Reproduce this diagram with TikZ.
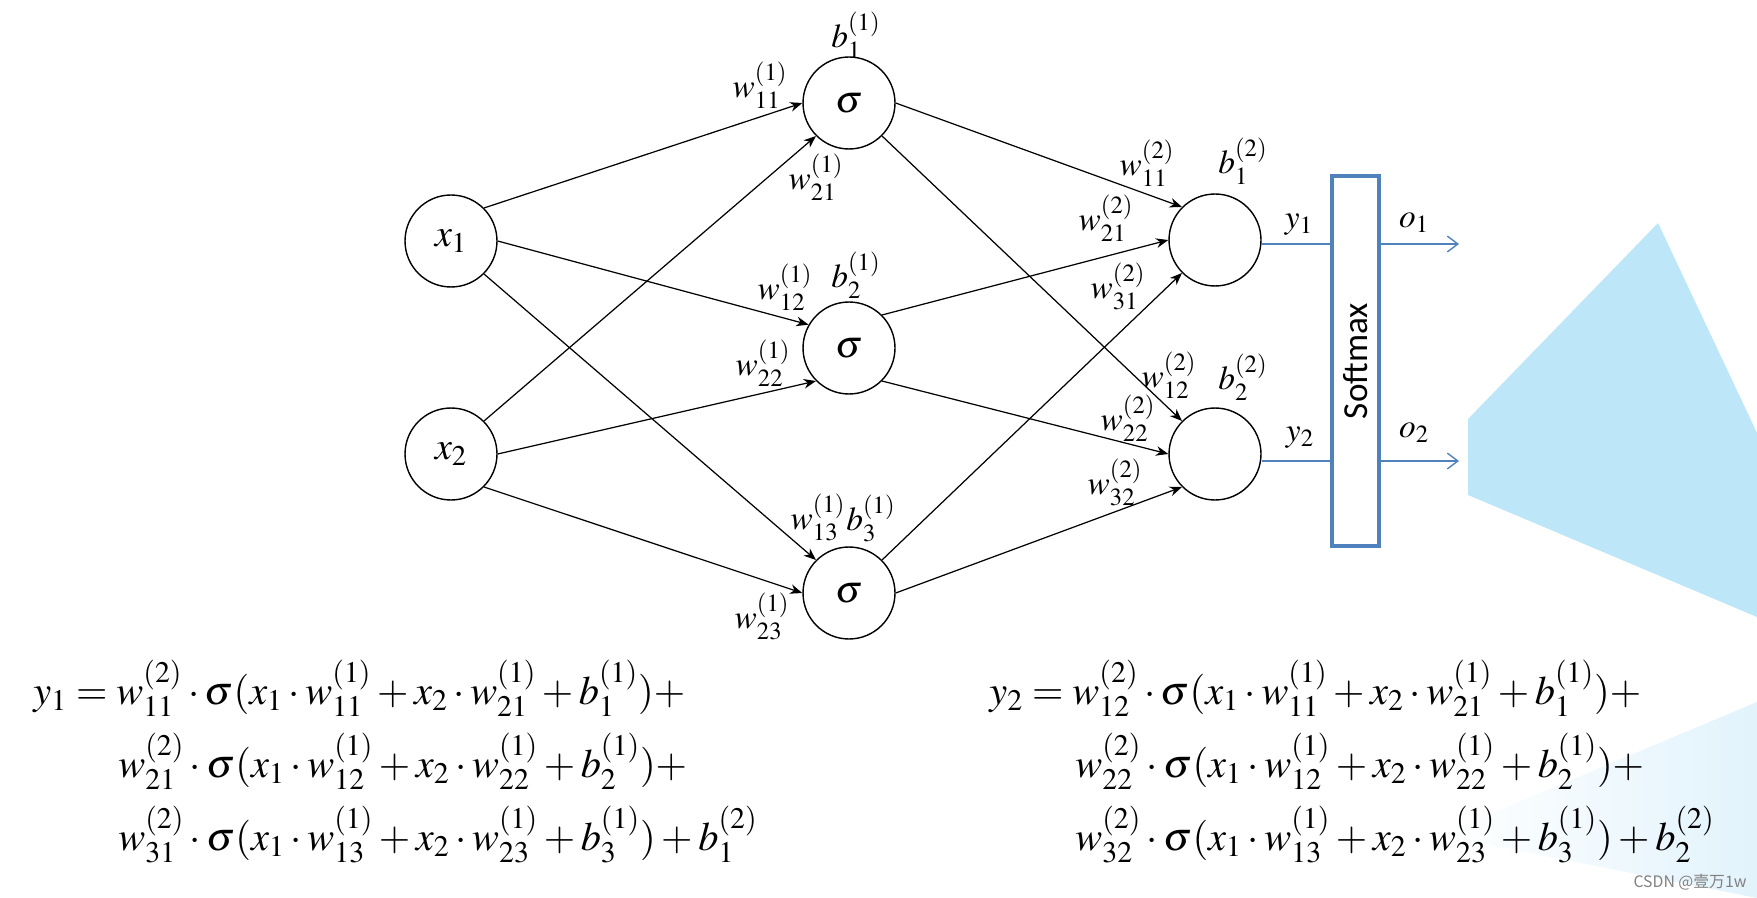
\documentclass[tikz,border=0pt]{standalone}
\usepackage{mathptmx}
\usepackage[no-math]{fontspec}
\newfontfamily\smfont{Carlito}
\newfontfamily\cjkfont{Noto Sans CJK SC}
\usetikzlibrary{arrows.meta}
\definecolor{smblue}{RGB}{79,129,189}
\definecolor{bgblue}{RGB}{189,230,248}
\definecolor{bgpale}{RGB}{226,243,252}

\begin{document}
\begin{tikzpicture}[x=0.02cm, y=-0.02cm,
  neuron/.style={circle, draw, line width=0.8pt, minimum size=1.84cm, inner sep=0pt, font=\fontsize{22}{26}\selectfont},
  wt/.style={inner sep=0pt, font=\fontsize{19}{23}\selectfont},
  eq/.style={anchor=base west, inner sep=0pt, font=\fontsize{23}{28}\selectfont},
  syn/.style={line width=0.7pt, -{Stealth[length=7pt, width=5.5pt]}},
  bline/.style={draw=smblue, line width=0.8pt}]
\useasboundingbox (0,0) rectangle (1757,898);

% slide background
\fill[bgblue] (1658,223) -- (1757,433) -- (1757,617) -- (1468,495) -- (1468,419) -- cycle;
\shade[left color=white, right color=bgpale] (1757,702) -- (1440,835) -- (1757,898) -- cycle;

% input layer
\node (x1) at (451,241) [neuron] {$x_1$};
\node (x2) at (451,454) [neuron] {$x_2$};

% hidden layer
\node (h1) at (849,103) [neuron] {$\sigma$};
\node (h2) at (849,348) [neuron] {$\sigma$};
\node (h3) at (849,593) [neuron] {$\sigma$};

% output layer
\node (o1) at (1215,240) [neuron] {};
\node (o2) at (1215,454) [neuron] {};

% input -> hidden
\draw[syn] (x1.north east) -- (h1.west);
\draw[syn] (x1.east) -- (h2.150);
\draw[syn] (x1.south east) -- (h3.north west);
\draw[syn] (x2.north east) -- (h1.south west);
\draw[syn] (x2.east) -- (h2.south west);
\draw[syn] (x2.south east) -- (h3.west);

% hidden -> output
\draw[syn] (h1.east) -- (o1.north west);
\draw[syn] (h1.south east) -- (o2.north west);
\draw[syn] (h2.north east) -- (o1.west);
\draw[syn] (h2.south east) -- (o2.west);
\draw[syn] (h3.north east) -- (o1.south west);
\draw[syn] (h3.east) -- (o2.south west);

% softmax
\node (sm) at (1355.5,361) [draw=smblue, line width=2.2pt, minimum width=0.94cm, minimum height=7.4cm] {};
\node (smtxt) at (sm.center) [rotate=90, font=\smfont\fontsize{20}{24}\selectfont] {Softmax};
\coordinate (t1) at (1459,244);
\coordinate (t2) at (1459,461);
\draw[bline] (o1.east |- t1) -- (sm.west |- t1);
\draw[bline] (o2.east |- t2) -- (sm.west |- t2);
\draw[bline, -{Straight Barb[length=6pt, width=9pt]}] (sm.east |- t1) -- (t1);
\draw[bline, -{Straight Barb[length=6pt, width=9pt]}] (sm.east |- t2) -- (t2);

% weights and biases, layer 1
\node (b11) at (856,35) [wt] {$b_1^{(1)}$};
\node (b21) at (856,275) [wt] {$b_2^{(1)}$};
\node (b31) at (871,518) [wt] {$b_3^{(1)}$};
\node (w111) at (760,85) [wt] {$w_{11}^{(1)}$};
\node (w211) at (816,177) [wt] {$w_{21}^{(1)}$};
\node (w121) at (785,287) [wt] {$w_{12}^{(1)}$};
\node (w221) at (763,363) [wt] {$w_{22}^{(1)}$};
\node (w131) at (818,517) [wt] {$w_{13}^{(1)}$};
\node (w231) at (762,616) [wt] {$w_{23}^{(1)}$};

% weights and biases, layer 2
\node (b12) at (1243,161) [wt] {$b_1^{(2)}$};
\node (b22) at (1243,377) [wt] {$b_2^{(2)}$};
\node (w112) at (1147,163) [wt] {$w_{11}^{(2)}$};
\node (w212) at (1106,218) [wt] {$w_{21}^{(2)}$};
\node (w312) at (1118,286) [wt] {$w_{31}^{(2)}$};
\node (w122) at (1169,375) [wt] {$w_{12}^{(2)}$};
\node (w222) at (1128,418) [wt] {$w_{22}^{(2)}$};
\node (w322) at (1115,482) [wt] {$w_{32}^{(2)}$};

% outputs
\node (y1) at (1299,225) [wt] {$y_1$};
\node (y2) at (1300,438) [wt] {$y_2$};
\node (lo1) at (1414,223) [wt] {$o_1$};
\node (lo2) at (1414,433) [wt] {$o_2$};

% formulas
\node (ya) at (33,704) [eq] {$y_1 = w_{11}^{(2)}\cdot\sigma(x_1\cdot w_{11}^{(1)}+x_2\cdot w_{21}^{(1)}+b_1^{(1)})+$};
\node (yb) at (118,777) [eq] {$w_{21}^{(2)}\cdot\sigma(x_1\cdot w_{12}^{(1)}+x_2\cdot w_{22}^{(1)}+b_2^{(1)})+$};
\node (yc) at (118,850) [eq] {$w_{31}^{(2)}\cdot\sigma(x_1\cdot w_{13}^{(1)}+x_2\cdot w_{23}^{(1)}+b_3^{(1)})+b_1^{(2)}$};
\node (za) at (989,704) [eq] {$y_2 = w_{12}^{(2)}\cdot\sigma(x_1\cdot w_{11}^{(1)}+x_2\cdot w_{21}^{(1)}+b_1^{(1)})+$};
\node (zb) at (1075,777) [eq] {$w_{22}^{(2)}\cdot\sigma(x_1\cdot w_{12}^{(1)}+x_2\cdot w_{22}^{(1)}+b_2^{(1)})+$};
\node (zc) at (1075,850) [eq] {$w_{32}^{(2)}\cdot\sigma(x_1\cdot w_{13}^{(1)}+x_2\cdot w_{23}^{(1)}+b_3^{(1)})+b_2^{(2)}$};

\node (wm) at (1690,882) [font=\cjkfont\fontsize{9}{11}\selectfont, text=gray] {CSDN @壹万1w};
\end{tikzpicture}
\end{document}
